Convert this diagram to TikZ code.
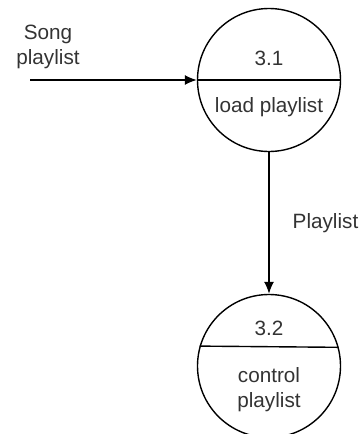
\documentclass[tikz,border=0pt]{standalone}
\usepackage{fontspec}
\setmainfont{Liberation Sans}
\usetikzlibrary{arrows.meta}
\begin{document}
\begin{tikzpicture}
    [
    x=1pt,y=-1pt,
    process/.style={circle,draw,line width=1.4pt,inner sep=0pt,minimum size=143pt},
    txt/.style={inner sep=0pt,text=black!80,font=\fontsize{20.7}{25}\selectfont,align=center},
    flow/.style={-{Latex[length=12pt,width=10pt]},line width=1.4pt}
    ]
    \useasboundingbox (0,0) rectangle (360,434);
    \node (p1) at (269,80) [process] {};
    \node (p2) at (269,366) [process] {};
    \node (n1) at (269,58) [txt] {3.1};
    \node (l1) at (269,107) [txt] {load playlist};
    \node (n2) at (269,328) [txt] {3.2};
    \node (l2) at (269,390) [txt] {control\\playlist};
    \node (song) at (48,47) [txt] {Song\\playlist};
    \coordinate (src) at (30,80);
    \draw [line width=1.4pt] (p1.west) to (p1.east);
    \draw [line width=1.4pt] (p2.164.5) to (p2.15.5);
    \draw [flow] (src) to (p1.west);
    \draw [flow] (p1.south) to node [txt,anchor=west,xshift=23pt] {Playlist} (p2.north);
  \end{tikzpicture}
\end{document}
